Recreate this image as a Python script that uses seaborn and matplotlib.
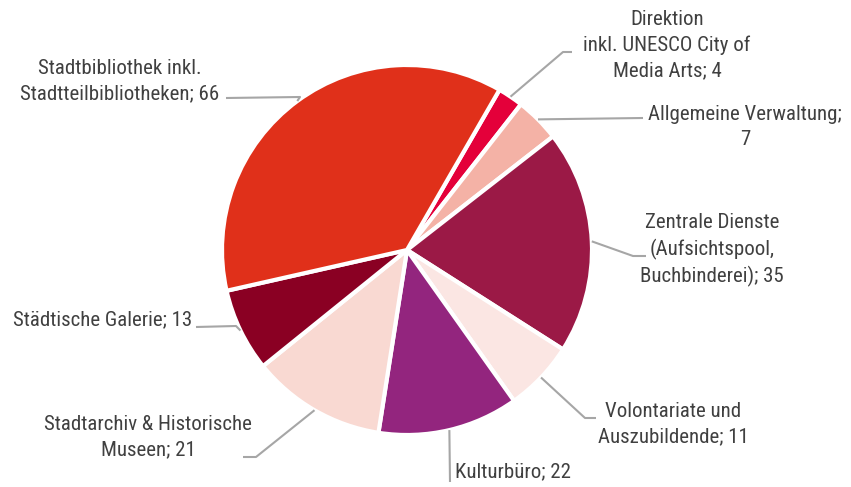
import numpy as np
import matplotlib
matplotlib.use("Agg")
import matplotlib.pyplot as plt
from matplotlib import font_manager
import seaborn as sns

categories = [
    "Direktion\ninkl. UNESCO City of\nMedia Arts",
    "Allgemeine Verwaltung;\n",
    "Zentrale Dienste\n(Aufsichtspool,\nBuchbinderei)",
    "Volontariate und\nAuszubildende",
    "Kulturbüro",
    "Stadtarchiv & Historische\nMuseen",
    "Städtische Galerie",
    "Stadtbibliothek inkl.\nStadtteilbibliotheken",
]
values = [4, 7, 35, 11, 22, 21, 13, 66]
colors = ["#E4003A", "#F4B2A6", "#9B1946", "#FBE6E3", "#93257E", "#F9D9D2", "#8A0023", "#E0301A"]

def label_text(c, v):
    if c.endswith(";\n"):
        return f"{c}{v}"
    return f"{c}; {v}"

sns.set_theme(style="white")
available = {f.name for f in font_manager.fontManager.ttflist}
family = "DejaVu Sans"
for cand in ["Roboto Condensed", "Open Sans Condensed", "Liberation Sans Narrow",
             "Arial Narrow", "Roboto", "Lato"]:
    if cand in available:
        family = cand
        break
plt.rcParams['font.family'] = [family, 'DejaVu Sans']
fs = 15

W, H = 851, 487
fig = plt.figure(figsize=(W / 100, H / 100), dpi=100)
ax = fig.add_axes([0, 0, 1, 1])

cx, cy, R = 407, 250, 185
wedges, _ = ax.pie(values, colors=colors, startangle=-60, counterclock=True,
                   center=(cx, cy), radius=R, frame=True,
                   wedgeprops=dict(edgecolor="white", linewidth=3))
ax.set_xlim(0, W)
ax.set_ylim(H, 0)
ax.set_aspect("equal")
ax.axis("off")

# layout: (elbow points, text position, ha)
layout = [
    ([(563, 52), (572, 52)], (667, 45), "center"),
    ([(643, 118)], (745, 127), "center"),
    ([(633, 256), (646, 256)], (712, 250), "center"),
    ([(585, 418), (596, 418)], (673, 424), "center"),
    ([(450, 482)], (455, 472), "left"),
    ([(256, 457), (243, 457)], (148, 437), "center"),
    ([(236, 326), (196, 327)], (192, 320), "right"),
    ([(300, 97), (226, 98)], (120, 81), "center"),
]

text_color = "#404040"
line_color = "#A6A6A6"
for w, c, v, (pts, tpos, ha) in zip(wedges, categories, values, layout):
    ang = np.deg2rad((w.theta1 + w.theta2) / 2)
    sx = cx + R * np.cos(ang)
    sy = cy + R * np.sin(ang)
    xs = [sx] + [p[0] for p in pts]
    ys = [sy] + [p[1] for p in pts]
    ax.plot(xs, ys, color=line_color, lw=1.5, solid_capstyle="butt", zorder=1)
    ax.text(tpos[0], tpos[1], label_text(c, v), ha=ha, va="center",
            fontsize=fs, color=text_color, linespacing=1.4)

fig.savefig("out.png", dpi=100)
